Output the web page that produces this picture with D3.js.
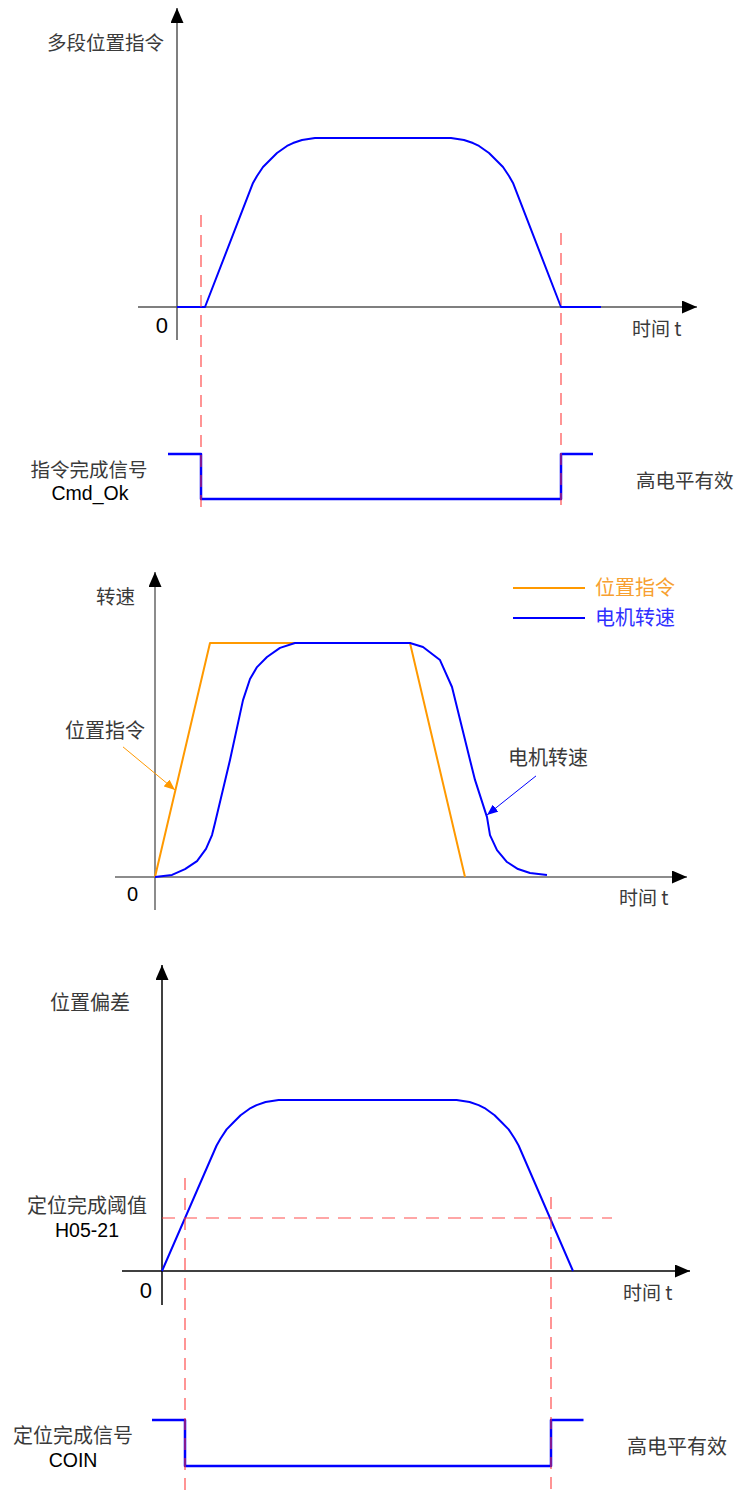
<!DOCTYPE html>
<html>
<head>
<meta charset="utf-8">
<script src="https://cdn.jsdelivr.net/npm/d3@7/dist/d3.min.js"></script>
<style>
  body { margin: 0; background: #fff; }
  .cjk { font-family: "Noto Sans CJK SC", sans-serif; fill: #3a3a3a; }
  .lat { font-family: "Liberation Sans", Arial, sans-serif; fill: #000; }
</style>
</head>
<body>
<script>
// ---- panel 1 : 多段位置指令 + Cmd_Ok ----
const cmdT = [0, 14, 38, 40, 43, 46.5, 50, 55, 58, 62.5, 69, 137, 143.5, 148, 151, 156, 159.5, 163, 166, 168, 192, 212];
const cmdV = [0, 0, 73.4, 77.5, 82.8, 87, 91.1, 95.3, 97, 98.8, 100, 100, 98.8, 97, 95.3, 91.1, 87, 82.8, 77.5, 73.4, 0, 0];
const okT = [-4.5, 12, 192, 208];
const okLevel = [1, 0, 1, 1];
const cmdMarks = [12, 192];

// ---- panel 2 : 转速 ----
const seriesNames = ["位置指令", "电机转速"];
const refT = [0, 27.5, 127.5, 155];
const refV = [0, 100, 100, 0];
const spdT = [0, 8.5, 15, 21, 25.5, 28.5, 30, 37.5, 44, 47.5, 51, 56, 62.5, 70, 127.5, 134, 142.5, 148.5, 157.5, 160, 166, 167.5, 171, 176, 181.5, 187.5, 196];
const spdV = [0, 0.9, 3.4, 6.8, 12, 17.9, 23.1, 50, 75.6, 84.6, 89.7, 94, 97.9, 100, 100, 98.3, 92.7, 81.2, 50, 41.5, 25.6, 17.9, 11.5, 6.4, 3.4, 1.7, 0.9];

// ---- panel 3 : 位置偏差 + COIN ----
const errT = [0, 27.3, 29.3, 32.3, 35.8, 39.3, 44.3, 47.3, 51.8, 58.3, 147.3, 153.8, 158.3, 161.3, 166.3, 169.8, 173.3, 176.3, 178.3, 205.5];
const errV = [0, 73.4, 77.5, 82.8, 87, 91.1, 95.3, 97, 98.8, 100, 100, 98.8, 97, 95.3, 91.1, 87, 82.8, 77.5, 73.4, 0];
const threshold = 31;
const thresholdSpan = [0, 225];
const coinT = [-5, 11.5, 194.5, 210.75];
const coinLevel = [1, 0, 1, 1];
const coinMarks = [11.5, 194.5];

const W = 736, H = 1497;
const BLUE = "#0000ff", ORANGE = "#ff9900", RED = "#ff3030";

const svg = d3.select("body").append("svg")
    .attr("width", W).attr("height", H);

const defs = svg.append("defs");
function marker(id, color, len, wid) {
  defs.append("marker")
    .attr("id", id)
    .attr("markerUnits", "userSpaceOnUse")
    .attr("markerWidth", len).attr("markerHeight", wid)
    .attr("refX", len).attr("refY", wid / 2)
    .attr("orient", "auto")
    .append("path")
    .attr("d", `M0,0L${len},${wid / 2}L0,${wid}Z`)
    .attr("fill", color);
}
marker("arrK", "#000", 15, 13);
marker("arrO", ORANGE, 11, 9);
marker("arrB", BLUE, 11, 9);

function pairs(a, b) { return a.map((d, i) => [d, b[i]]); }

function label(txt, x, y, size, cls, anchor, color) {
  const t = svg.append("text")
    .attr("class", cls)
    .attr("x", x).attr("y", y)
    .attr("text-anchor", anchor || "start")
    .style("font-size", size + "px")
    .text(txt);
  if (color) t.style("fill", color);
  return t;
}

function axes(x, y, xl, yl, color) {
  // x axis
  svg.append("line")
    .attr("x1", xl[0]).attr("x2", xl[1])
    .attr("y1", y(0)).attr("y2", y(0))
    .attr("stroke", color).attr("stroke-width", 1.5)
    .attr("marker-end", "url(#arrK)");
  // y axis
  svg.append("line")
    .attr("x1", x(0)).attr("x2", x(0))
    .attr("y1", yl[0]).attr("y2", yl[1])
    .attr("stroke", color).attr("stroke-width", 1.5)
    .attr("marker-end", "url(#arrK)");
}

function dashV(xp, y0, y1) {
  svg.append("line")
    .attr("x1", xp).attr("x2", xp)
    .attr("y1", y0).attr("y2", y1)
    .attr("stroke", RED).attr("stroke-opacity", 0.85)
    .attr("stroke-width", 1.2)
    .attr("stroke-dasharray", "12,8");
}

function curve(x, y, data, color, w, c) {
  svg.append("path")
    .datum(data)
    .attr("d", d3.line().x(d => x(d[0])).y(d => y(d[1])).curve(c || d3.curveLinear))
    .attr("fill", "none")
    .attr("stroke", color)
    .attr("stroke-width", w)
    .attr("stroke-linejoin", "round");
}

// ================= panel 1 =================
const x1 = d3.scaleLinear().domain([0, 260]).range([177, 697]);
const y1 = d3.scaleLinear().domain([0, 100]).range([307, 138]);
const s1 = d3.scaleLinear().domain([0, 1]).range([499, 454]);

axes(x1, y1, [138, 697], [340, 8], "#555");
curve(x1, s1, pairs(okT, okLevel), BLUE, 2.5, d3.curveStepAfter);
curve(x1, y1, pairs(cmdT, cmdV), BLUE, 2);
dashV(x1(cmdMarks[0]), 215, 507);
dashV(x1(cmdMarks[1]), 233, 507);

label("多段位置指令", 47, 50, 19.5, "cjk");
label("0", 168, 333, 22, "lat", "end");
label("时间 t", 632, 336, 19, "cjk");
label("指令完成信号", 89, 477, 19.5, "cjk", "middle");
label("Cmd_Ok", 90, 500, 19.5, "lat", "middle");
label("高电平有效", 636, 488, 19.5, "cjk");

// ================= panel 2 =================
const x2 = d3.scaleLinear().domain([0, 265]).range([155, 685]);
const y2 = d3.scaleLinear().domain([0, 100]).range([877, 643]);

axes(x2, y2, [115, 687], [910, 572], "#666");
curve(x2, y2, pairs(refT, refV), ORANGE, 2);
curve(x2, y2, pairs(spdT, spdV), BLUE, 2);

// legend
const legColors = [ORANGE, BLUE];
seriesNames.forEach((name, i) => {
  const ly = 588 + i * 30;
  svg.append("line")
    .attr("x1", 513).attr("x2", 585)
    .attr("y1", ly).attr("y2", ly)
    .attr("stroke", legColors[i]).attr("stroke-width", 2);
  label(name, 595, ly + 7, 20, "cjk", "start", i === 0 ? "#f7a030" : "#3030ff");
});

// call-out arrows
svg.append("line")
  .attr("x1", x2(-16)).attr("y1", y2(55.6))
  .attr("x2", x2(10)).attr("y2", y2(37.2))
  .attr("stroke", ORANGE).attr("stroke-width", 1)
  .attr("marker-end", "url(#arrO)");
svg.append("line")
  .attr("x1", x2(190.5)).attr("y1", y2(43.2))
  .attr("x2", x2(166)).attr("y2", y2(26.5))
  .attr("stroke", BLUE).attr("stroke-width", 1)
  .attr("marker-end", "url(#arrB)");

label("转速", 96, 604, 19.5, "cjk");
label(seriesNames[0], 65, 738, 20, "cjk");
label(seriesNames[1], 508, 765, 20, "cjk");
label("0", 138, 901, 20, "lat", "end");
label("时间 t", 619, 905, 19, "cjk");

// ================= panel 3 =================
const x3 = d3.scaleLinear().domain([0, 264]).range([162, 690]);
const y3 = d3.scaleLinear().domain([0, 100]).range([1271, 1100]);
const s3 = d3.scaleLinear().domain([0, 1]).range([1466, 1420]);

axes(x3, y3, [122, 690], [1305, 965], "#000");
curve(x3, s3, pairs(coinT, coinLevel), BLUE, 2.5, d3.curveStepAfter);
curve(x3, y3, pairs(errT, errV), BLUE, 2);

svg.append("line")
  .attr("x1", x3(thresholdSpan[0])).attr("x2", x3(thresholdSpan[1]))
  .attr("y1", y3(threshold)).attr("y2", y3(threshold))
  .attr("stroke", RED).attr("stroke-opacity", 0.85)
  .attr("stroke-width", 1.2)
  .attr("stroke-dasharray", "13,9");
dashV(x3(coinMarks[0]), 1178, 1497);
dashV(x3(coinMarks[1]), 1197, 1497);

label("位置偏差", 50, 1010, 20, "cjk");
label("定位完成阈值", 87, 1213, 20, "cjk", "middle");
label("H05-21", 87, 1237, 19.5, "lat", "middle");
label("0", 152, 1298, 22, "lat", "end");
label("时间 t", 623, 1300, 19, "cjk");
label("定位完成信号", 73, 1443, 20, "cjk", "middle");
label("COIN", 73, 1467, 19.5, "lat", "middle");
label("高电平有效", 627, 1454, 20, "cjk");
</script>
</body>
</html>
